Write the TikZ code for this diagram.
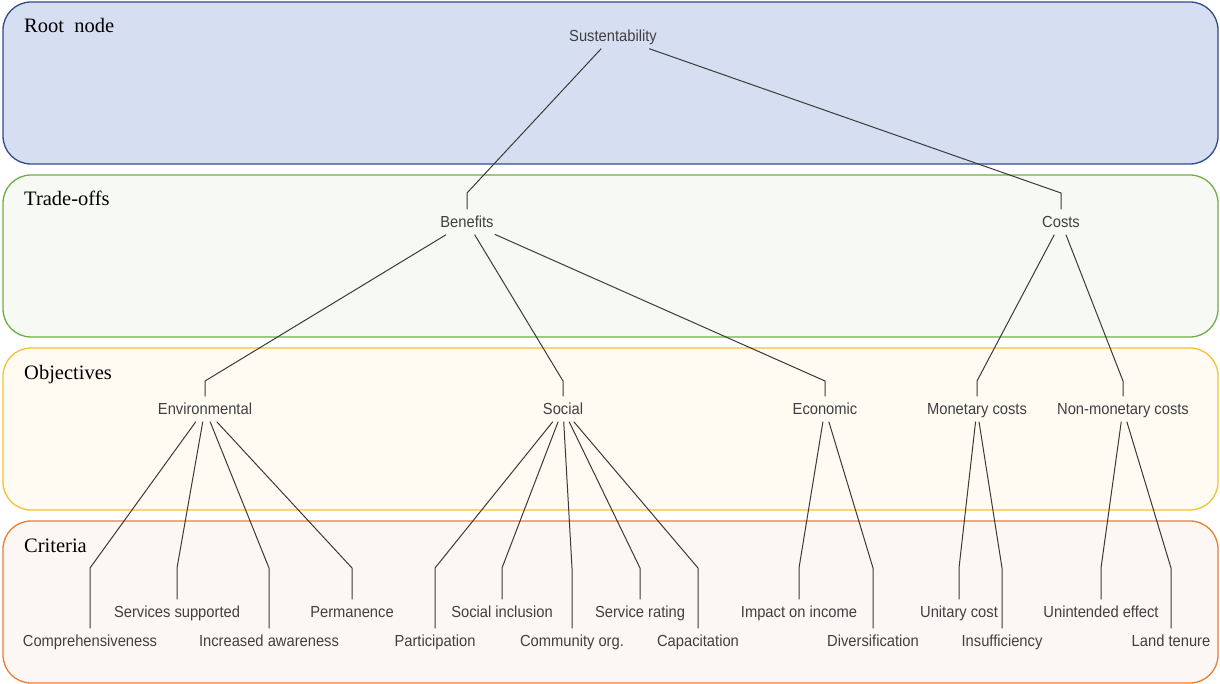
\documentclass[tikz,border=0pt]{standalone}
\usepackage{fontspec}
\setmainfont{Liberation Serif}
\newfontfamily\treefont[FakeStretch=0.92]{Liberation Sans}

\definecolor{bandblueF}{HTML}{D6DFF2}
\definecolor{bandblueD}{HTML}{2F4B8E}
\definecolor{bandgreenF}{HTML}{F7FAF4}
\definecolor{bandgreenD}{HTML}{70AD47}
\definecolor{bandyellowF}{HTML}{FFFBF2}
\definecolor{bandyellowD}{HTML}{F5C22E}
\definecolor{bandorangeF}{HTML}{FCF7F4}
\definecolor{bandorangeD}{HTML}{ED7D31}
\definecolor{textgray}{HTML}{404040}
\definecolor{linkgray}{HTML}{3A3A3A}

\begin{document}
\begin{tikzpicture}[x=1pt,y=-1pt,
  band/.style={rounded corners=28pt, line width=1.3pt},
  bandlabel/.style={anchor=base west, inner sep=0pt, font=\fontsize{20.5}{24}\selectfont},
  tn/.style={font=\treefont\fontsize{16}{19}\selectfont, text=textgray,
             text height=11.5pt, text depth=0pt, inner xsep=1pt, inner ysep=0pt,
             minimum height=25pt},
  link/.style={draw=linkgray, line width=1pt, line join=round}]

\useasboundingbox (0,0) rectangle (1220,684);

% level bands
\draw[band, fill=bandblueF,   draw=bandblueD]   (3,2)   rectangle (1218,164);
\draw[band, fill=bandgreenF,  draw=bandgreenD]  (3,175) rectangle (1218,337);
\draw[band, fill=bandyellowF, draw=bandyellowD] (3,348) rectangle (1218,510);
\draw[band, fill=bandorangeF, draw=bandorangeD] (3,521) rectangle (1218,683);

\node[bandlabel] (lroot)  at (24,33)  {Root\ \ node};
\node[bandlabel] (ltrade) at (24,206) {Trade-offs};
\node[bandlabel] (lobj)   at (24,379) {Objectives};
\node[bandlabel] (lcrit)  at (24,552) {Criteria};

% elbow rows for each level
\coordinate (rowtrade) at (0,193);
\coordinate (rowobj)   at (0,381);
\coordinate (rowcrit)  at (0,568);

% tree nodes
\node[tn] (sus) at (613,36) {Sustentability};

\node[tn] (ben) at (467,222) {Benefits};
\node[tn] (cos) at (1061,222) {Costs};

\node[tn] (env) at (205,409) {Environmental};
\node[tn] (soc) at (563,409) {Social};
\node[tn] (eco) at (825,409) {Economic};
\node[tn] (mon) at (977,409) {Monetary costs};
\node[tn] (non) at (1123,409) {Non-monetary costs};

\node[tn] (comp)   at (90,641)   {Comprehensiveness};
\node[tn] (serv)   at (177,612)  {Services supported};
\node[tn] (incr)   at (269,641)  {Increased awareness};
\node[tn] (perm)   at (352,612)  {Permanence};
\node[tn] (part)   at (435,641)  {Participation};
\node[tn] (socinc) at (502,612)  {Social inclusion};
\node[tn] (comm)   at (572,641)  {Community org.};
\node[tn] (rate)   at (640,612)  {Service rating};
\node[tn] (capa)   at (698,641)  {Capacitation};
\node[tn] (impact) at (799,612)  {Impact on income};
\node[tn] (divers) at (873,641)  {Diversification};
\node[tn] (unit)   at (959,612)  {Unitary cost};
\node[tn] (insuf)  at (1002,641) {Insufficiency};
\node[tn] (unint)  at (1101,612) {Unintended effect};
\node[tn] (land)   at (1171,641) {Land tenure};

% connectors: parent -> elbow above child -> child
\foreach \p/\c/\r in {sus/ben/rowtrade, sus/cos/rowtrade,
    ben/env/rowobj, ben/soc/rowobj, ben/eco/rowobj,
    cos/mon/rowobj, cos/non/rowobj,
    env/comp/rowcrit, env/serv/rowcrit, env/incr/rowcrit, env/perm/rowcrit,
    soc/part/rowcrit, soc/socinc/rowcrit, soc/comm/rowcrit, soc/rate/rowcrit, soc/capa/rowcrit,
    eco/impact/rowcrit, eco/divers/rowcrit,
    mon/unit/rowcrit, mon/insuf/rowcrit,
    non/unint/rowcrit, non/land/rowcrit}
  \draw[link] (\p) -- (\c.north |- \r) -- (\c.north);

\end{tikzpicture}
\end{document}
